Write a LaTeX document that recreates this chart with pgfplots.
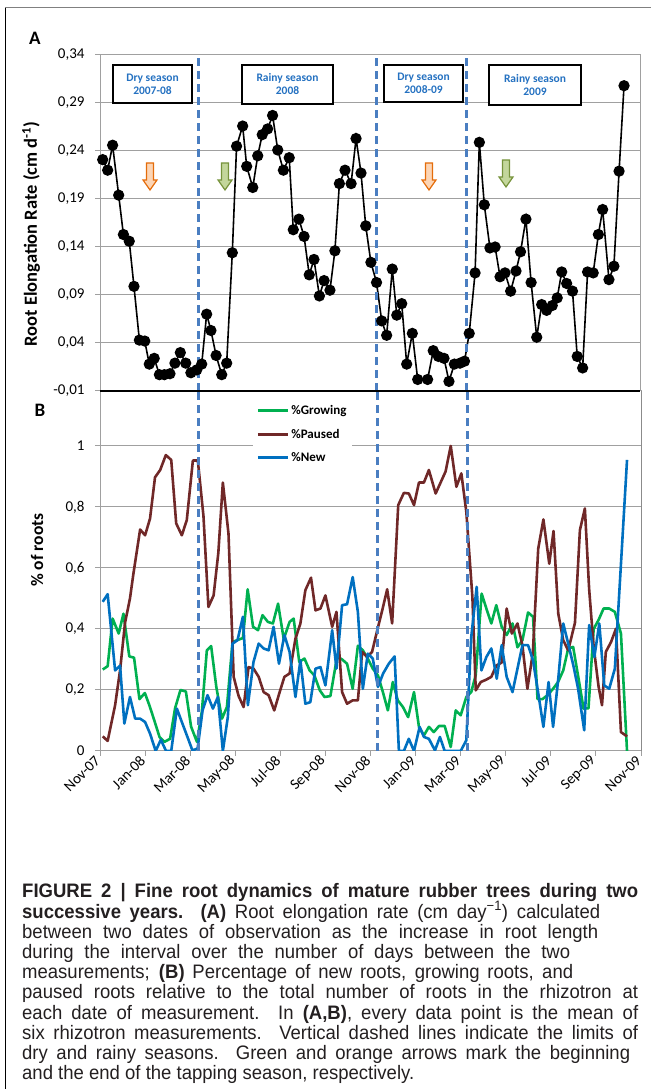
\documentclass[border=0pt]{standalone}
\usepackage{fontspec}
\setmainfont{Carlito}
\newfontfamily\capfont[FakeStretch=0.95]{Liberation Sans}
\usepackage{pgfplots}
\pgfplotsset{compat=1.18}
\definecolor{gridgray}{RGB}{160,160,160}
\definecolor{dashblue}{RGB}{74,126,193}
\definecolor{txtblue}{RGB}{36,113,193}
\definecolor{cgreen}{RGB}{0,176,80}
\definecolor{cbrown}{RGB}{112,40,40}
\definecolor{cblue}{RGB}{0,112,192}
\definecolor{captext}{RGB}{35,31,32}
\definecolor{arrowor}{RGB}{228,108,10}
\definecolor{arroworfill}{RGB}{252,213,181}
\definecolor{arrowgr}{RGB}{119,147,60}
\definecolor{arrowgrfill}{RGB}{195,214,155}
\newcommand\blockarrow[4]{%
  \begin{scope}[shift={(#1,#2)}]
  \draw[#3, fill=#4, line width=1.2pt, line join=miter]
    (-3.5pt,0pt) -- (3.5pt,0pt) -- (3.5pt,-17pt) -- (7pt,-17pt) -- (0pt,-27pt)
    -- (-7pt,-17pt) -- (-3.5pt,-17pt) -- cycle;
  \end{scope}}
\newcommand\seasonbox[5]{%
  \node[draw=black, line width=2pt, fill=white, minimum width=#3, minimum height=#4,
        inner sep=0pt, align=center, text=txtblue,
        font=\bfseries\fontsize{11.5}{13}\selectfont] at (#1,#2) {#5};}

\pgfplotstableread{
x y
0.12 0.231
0.34 0.220
0.56 0.246
0.83 0.194
1.04 0.153
1.30 0.146
1.51 0.099
1.75 0.043
1.99 0.042
2.19 0.018
2.41 0.024
2.64 0.007
2.86 0.007
3.11 0.008
3.33 0.019
3.57 0.030
3.81 0.019
4.04 0.009
4.30 0.012
4.52 0.018
4.74 0.070
4.93 0.053
5.16 0.027
5.41 0.007
5.63 0.019
5.88 0.134
6.07 0.245
6.34 0.266
6.52 0.224
6.79 0.202
7.01 0.235
7.21 0.257
7.45 0.263
7.67 0.277
7.90 0.241
8.15 0.220
8.41 0.233
8.59 0.158
8.84 0.169
9.07 0.151
9.30 0.111
9.51 0.127
9.75 0.089
9.96 0.105
10.22 0.095
10.44 0.136
10.64 0.206
10.89 0.220
11.16 0.206
11.38 0.253
11.60 0.217
11.81 0.162
12.04 0.124
12.29 0.103
12.52 0.063
12.74 0.048
12.99 0.117
13.19 0.069
13.41 0.081
13.63 0.018
13.88 0.050
14.12 0.002
14.56 0.002
14.81 0.032
15.04 0.026
15.29 0.024
15.51 0.000
15.75 0.018
16.00 0.019
16.20 0.021
16.41 0.050
16.67 0.113
16.86 0.249
17.08 0.184
17.33 0.139
17.56 0.140
17.78 0.109
18.00 0.113
18.25 0.094
18.49 0.115
18.69 0.135
18.93 0.169
19.16 0.103
19.41 0.046
19.63 0.080
19.85 0.074
20.10 0.079
20.32 0.087
20.52 0.114
20.74 0.102
21.00 0.094
21.21 0.026
21.45 0.014
21.67 0.114
21.92 0.113
22.15 0.153
22.34 0.179
22.62 0.106
22.84 0.120
23.07 0.219
23.29 0.308
}\elong

\pgfplotstableread{
x y
0.12 0.267
0.34 0.278
0.56 0.434
0.83 0.385
1.04 0.45
1.30 0.31
1.51 0.306
1.75 0.17
1.99 0.19
2.19 0.15
2.41 0.10
2.64 0.046
2.86 0.03
3.11 0.04
3.33 0.14
3.57 0.20
3.81 0.195
4.04 0.08
4.30 0.03
4.52 0.13
4.74 0.33
4.93 0.344
5.16 0.21
5.41 0.106
5.63 0.144
5.88 0.357
6.07 0.363
6.34 0.37
6.55 0.53
6.79 0.407
7.01 0.396
7.21 0.445
7.45 0.423
7.67 0.418
7.90 0.483
8.15 0.367
8.41 0.423
8.59 0.434
8.84 0.292
9.07 0.303
9.30 0.264
9.51 0.248
9.75 0.199
9.96 0.177
10.22 0.18
10.52 0.31
10.74 0.30
10.96 0.286
11.21 0.204
11.44 0.345
11.66 0.33
11.88 0.303
12.10 0.27
12.33 0.248
12.55 0.193
12.77 0.133
12.99 0.226
13.21 0.166
13.44 0.144
13.67 0.111
13.93 0.193
14.15 0.079
14.37 0.051
14.59 0.079
14.81 0.062
15.04 0.082
15.29 0.082
15.56 0.013
15.78 0.133
16.00 0.117
16.25 0.177
16.47 0.193
16.67 0.25
16.93 0.516
17.14 0.467
17.36 0.418
17.58 0.478
17.82 0.407
18.04 0.38
18.30 0.418
18.52 0.34
18.74 0.363
18.99 0.454
19.21 0.44
19.41 0.17
19.63 0.17
19.85 0.183
20.10 0.204
20.32 0.226
20.55 0.264
20.77 0.336
20.99 0.341
21.23 0.237
21.45 0.139
21.67 0.14
21.90 0.40
22.12 0.43
22.34 0.467
22.59 0.467
22.84 0.456
23.11 0.385
23.38 0.0
}\growing

\pgfplotstableread{
x y
0.12 0.048
0.34 0.033
0.67 0.15
0.89 0.264
1.11 0.42
1.33 0.50
1.48 0.58
1.78 0.726
2.00 0.707
2.22 0.762
2.44 0.897
2.67 0.921
2.92 0.97
3.16 0.954
3.38 0.746
3.63 0.707
3.85 0.757
4.12 0.952
4.34 0.952
4.59 0.77
4.81 0.472
5.04 0.51
5.25 0.65
5.45 0.88
5.70 0.713
5.93 0.243
6.15 0.18
6.37 0.144
6.59 0.275
6.81 0.27
7.04 0.243
7.26 0.193
7.48 0.183
7.73 0.133
7.97 0.193
8.18 0.243
8.41 0.254
8.67 0.368
8.89 0.418
9.11 0.527
9.36 0.568
9.56 0.461
9.78 0.467
10.00 0.51
10.30 0.407
10.49 0.456
10.74 0.193
10.96 0.155
11.21 0.166
11.44 0.166
11.63 0.325
11.85 0.308
12.07 0.325
12.30 0.396
12.52 0.461
12.74 0.53
12.96 0.418
13.23 0.806
13.48 0.846
13.70 0.844
13.93 0.806
14.15 0.88
14.37 0.88
14.59 0.921
14.89 0.844
15.33 0.916
15.56 1.0
15.81 0.866
16.03 0.91
16.25 0.784
16.52 0.505
16.67 0.199
16.89 0.226
17.14 0.234
17.36 0.243
17.58 0.28
17.82 0.29
18.04 0.467
18.27 0.385
18.52 0.418
18.74 0.346
18.96 0.204
19.20 0.32
19.44 0.663
19.67 0.759
19.93 0.614
20.12 0.721
20.33 0.45
20.55 0.363
20.77 0.33
21.07 0.42
21.29 0.724
21.51 0.795
21.70 0.53
21.90 0.341
22.12 0.21
22.27 0.15
22.44 0.325
22.67 0.357
22.89 0.401
23.11 0.062
23.38 0.048
}\paused

\pgfplotstableread{
x y
0.12 0.489
0.34 0.514
0.67 0.264
0.89 0.28
1.08 0.09
1.33 0.177
1.56 0.106
1.78 0.106
2.00 0.095
2.22 0.057
2.47 0.0
2.70 0.037
2.93 0.0
3.16 0.0
3.41 0.139
3.63 0.095
3.88 0.046
4.10 0.002
4.33 0.008
4.55 0.133
4.77 0.183
5.01 0.139
5.23 0.177
5.45 0.0
5.67 0.111
5.88 0.352
6.10 0.363
6.34 0.44
6.56 0.15
6.81 0.292
7.04 0.352
7.26 0.336
7.48 0.33
7.70 0.407
7.94 0.286
8.18 0.38
8.41 0.325
8.67 0.177
8.89 0.297
9.11 0.155
9.33 0.16
9.56 0.27
9.78 0.275
10.00 0.215
10.30 0.396
10.49 0.27
10.74 0.478
10.96 0.481
11.21 0.57
11.44 0.456
11.66 0.204
11.88 0.319
12.10 0.303
12.33 0.21
12.56 0.254
12.81 0.286
13.07 0.31
13.26 0.0
13.48 0.0
13.70 0.04
13.93 0.0
14.18 0.079
14.37 0.046
14.59 0.04
14.86 0.002
15.08 0.046
15.29 0.0
15.56 0.0
15.78 0.0
16.00 0.0
16.25 0.035
16.47 0.374
16.71 0.538
16.92 0.264
17.14 0.308
17.36 0.336
17.60 0.237
17.82 0.347
18.04 0.243
18.30 0.193
18.52 0.27
18.74 0.347
18.99 0.347
19.21 0.297
19.44 0.19
19.67 0.079
19.90 0.226
20.10 0.079
20.33 0.237
20.55 0.418
20.77 0.352
21.00 0.28
21.21 0.204
21.48 0.068
21.70 0.413
21.93 0.308
22.15 0.418
22.37 0.215
22.59 0.204
22.84 0.27
23.38 0.954
}\newroots

\begin{document}
\begin{tikzpicture}
\path[use as bounding box] (0pt,0pt) rectangle (651pt,1089pt);
\draw[gray, line width=1pt] (5pt,1081pt) -- (651pt,1081pt);
\draw[black, line width=1pt] (5pt,1081pt) -- (5pt,0pt);

% ---------- Panel B ----------
\begin{axis}[
  at={(100pt,338pt)}, anchor=south west, scale only axis,
  width=541pt, height=360pt,
  xmin=0, xmax=24, ymin=0, ymax=1.18,
  xtick={0,2,...,24},
  xticklabels={Nov-07,Jan-08,Mar-08,May-08,Jul-08,Sep-08,Nov-08,Jan-09,Mar-09,May-09,Jul-09,Sep-09,Nov-09},
  ytick={0,0.2,0.4,0.6,0.8,1},
  yticklabels={0,{0,2},{0,4},{0,6},{0,8},1},
  ymajorgrids, grid style={gridgray, line width=1pt},
  axis line style={gridgray, line width=1pt},
  tick align=outside, major tick length=5pt,
  tick style={gridgray, line width=1pt},
  xtick pos=bottom, ytick pos=left,
  yticklabel style={font=\fontsize{15}{18}\selectfont, xshift=-7pt},
  xticklabel style={font=\fontsize{15}{18}\selectfont, rotate=45, anchor=east},
  legend style={at={(0.283,0.972)}, anchor=north west, draw=none, fill=white,
    font=\bfseries\fontsize{13}{15}\selectfont, inner xsep=3pt, inner ysep=2pt,
    row sep=9pt},
  legend cell align=left,
  legend image code/.code={\draw[#1, line width=3pt] (0pt,0pt) -- (30pt,0pt);},
]
\addplot[cgreen, line width=2.6pt, line join=round] table {\growing};
\addlegendentry{\%Growing}
\addplot[cbrown, line width=2.6pt, line join=round] table {\paused};
\addlegendentry{\%Paused}
\addplot[cblue, line width=2.6pt, line join=round] table {\newroots};
\addlegendentry{\%New}
\draw[dashblue, line width=3pt, dash pattern=on 8pt off 5pt] (axis cs:4.35,0) -- (axis cs:4.35,1.18);
\draw[dashblue, line width=3pt, dash pattern=on 8pt off 5pt] (axis cs:12.31,0) -- (axis cs:12.31,1.18);
\draw[dashblue, line width=3pt, dash pattern=on 8pt off 5pt] (axis cs:16.31,0) -- (axis cs:16.31,1.18);
\draw[black, line width=1pt] (rel axis cs:1,0) -- (rel axis cs:1,1);
\end{axis}

% ---------- Panel A ----------
\begin{axis}[
  at={(100pt,698pt)}, anchor=south west, scale only axis,
  width=540pt, height=336pt,
  xmin=0, xmax=24, ymin=-0.01, ymax=0.34,
  xtick=\empty,
  ytick={-0.01,0.04,0.09,0.14,0.19,0.24,0.29,0.34},
  yticklabels={{-0,01},{0,04},{0,09},{0,14},{0,19},{0,24},{0,29},{0,34}},
  ymajorgrids, grid style={gridgray, line width=1pt},
  axis line style={gridgray, line width=1pt},
  tick align=outside, major tick length=5pt,
  tick style={gridgray, line width=1pt},
  ytick pos=left,
  yticklabel style={font=\fontsize{15}{18}\selectfont, xshift=-7pt},
  clip=false,
]
\addplot[black, line width=1.6pt, mark=*, mark size=4.8pt, mark options={solid, fill=black}] table {\elong};
\draw[dashblue, line width=3pt, dash pattern=on 8pt off 5pt] (axis cs:4.38,-0.01) -- (axis cs:4.38,0.34);
\draw[dashblue, line width=3pt, dash pattern=on 8pt off 5pt] (axis cs:12.31,-0.01) -- (axis cs:12.31,0.34);
\draw[dashblue, line width=3pt, dash pattern=on 8pt off 5pt] (axis cs:16.31,-0.01) -- (axis cs:16.31,0.34);
\draw[black, line width=2pt] (rel axis cs:0,0) -- (rel axis cs:1,0);
\end{axis}

% season boxes
\seasonbox{152.5pt}{1005pt}{79pt}{38pt}{Dry season\\2007-08}
\seasonbox{287.5pt}{1004.5pt}{91pt}{39pt}{Rainy season\\2008}
\seasonbox{423.5pt}{1005.5pt}{79pt}{37pt}{Dry season\\2008-09}
\seasonbox{535pt}{1004pt}{92pt}{40pt}{Rainy season\\2009}

% tapping arrows
\blockarrow{150pt}{926pt}{arrowor}{arroworfill}
\blockarrow{225pt}{926pt}{arrowgr}{arrowgrfill}
\blockarrow{429pt}{926pt}{arrowor}{arroworfill}
\blockarrow{506pt}{929pt}{arrowgr}{arrowgrfill}

% labels
\node[font=\bfseries\fontsize{19}{22}\selectfont] at (35pt,1051pt) {A};
\node[font=\bfseries\fontsize{19}{22}\selectfont] at (40pt,679pt) {B};
\node[rotate=90, font=\bfseries\fontsize{18.5}{22}\selectfont] at (31pt,855pt) {Root Elongation Rate (cm d\textsuperscript{-1})};
\node[rotate=90, font=\bfseries\fontsize{17.5}{21}\selectfont] at (37pt,539pt) {\% of roots};

% caption
\begin{scope}[every node/.style={anchor=base west, inner sep=0pt, text=captext, font=\capfont\fontsize{19.5}{22}\selectfont}]
\node at (22pt,191pt) {\makebox[616pt][s]{\bfseries FIGURE 2 | Fine root dynamics of mature rubber trees during two}};
\node at (22pt,170.8pt) {\makebox[578pt][s]{{\bfseries successive years. (A)} Root elongation rate (cm day\textsuperscript{−1}) calculated}};
\node at (22pt,150.6pt) {\makebox[576pt][s]{between two dates of observation as the increase in root length}};
\node at (22pt,130.4pt) {\makebox[548pt][s]{during the interval over the number of days between the two}};
\node at (22pt,110.2pt) {\makebox[551pt][s]{measurements; {\bfseries (B)} Percentage of new roots, growing roots, and}};
\node at (22pt,90pt) {\makebox[616pt][s]{paused roots relative to the total number of roots in the rhizotron at}};
\node at (22pt,69.8pt) {\makebox[616pt][s]{each date of measurement. In {\bfseries (A,B)}, every data point is the mean of}};
\node at (22pt,49.6pt) {\makebox[616pt][s]{six rhizotron measurements. Vertical dashed lines indicate the limits of}};
\node at (22pt,29.4pt) {\makebox[608pt][s]{dry and rainy seasons. Green and orange arrows mark the beginning}};
\node at (22pt,9.2pt) {and the end of the tapping season, respectively.};
\end{scope}
\end{tikzpicture}
\end{document}
